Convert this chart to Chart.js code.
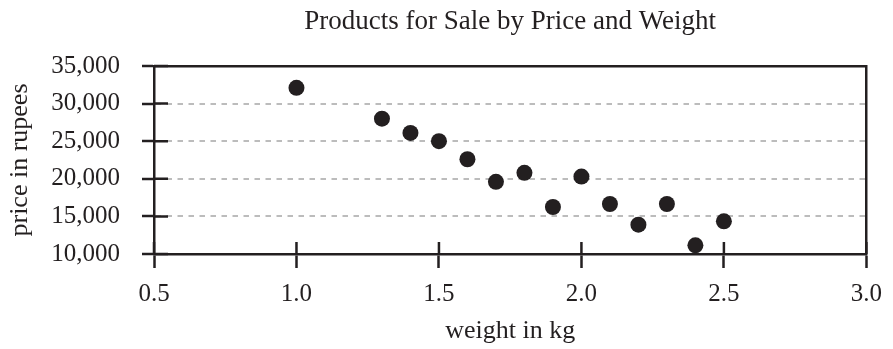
<!DOCTYPE html>
<html>
<head>
<meta charset="utf-8">
<script src="https://cdn.jsdelivr.net/npm/chart.js@4/dist/chart.umd.min.js"></script>
<style>
  html, body { margin: 0; padding: 0; background: #ffffff; }
  #wrap { width: 893px; height: 349px; }
</style>
</head>
<body>
<div id="wrap"><canvas id="priceChart"></canvas></div>
<script>
const weights = [1.0, 1.3, 1.4, 1.5, 1.6, 1.7, 1.8, 1.9, 2.0, 2.1, 2.2, 2.3, 2.4, 2.5];
const prices = [32100, 28000, 26100, 25000, 22600, 19600, 20800, 16250, 20300, 16650, 13900, 16650, 11150, 14350];
const xTickLabels = ['0.5', '1.0', '1.5', '2.0', '2.5', '3.0'];
const yTickLabels = ['10,000', '15,000', '20,000', '25,000', '30,000', '35,000'];

const ink = '#231f20';
const serif = "'Liberation Serif', 'Times New Roman', 'DejaVu Serif', serif";

// tick marks also cross into the plot area
const innerTicks = {
  id: 'innerTicks',
  beforeDatasetsDraw(chart) {
    const { ctx, chartArea, scales } = chart;
    ctx.save();
    ctx.strokeStyle = ink;
    ctx.lineWidth = 2.5;
    ctx.beginPath();
    scales.y.ticks.forEach(t => {
      const y = scales.y.getPixelForValue(t.value);
      ctx.moveTo(chartArea.left, y);
      ctx.lineTo(chartArea.left + 14, y);
    });
    scales.x.ticks.forEach(t => {
      const x = scales.x.getPixelForValue(t.value);
      ctx.moveTo(x, chartArea.bottom);
      ctx.lineTo(x, chartArea.bottom - 12);
    });
    ctx.stroke();
    ctx.restore();
  }
};

const points = weights.map((w, i) => ({ x: w, y: prices[i] }));

const ctx = document.getElementById('priceChart').getContext('2d');
new Chart(ctx, {
  type: 'scatter',
  data: {
    datasets: [{
      data: points,
      backgroundColor: ink,
      borderColor: ink,
      borderWidth: 0,
      pointRadius: 8,
      pointHoverRadius: 8
    }]
  },
  plugins: [innerTicks],
  options: {
    responsive: true,
    maintainAspectRatio: false,
    animation: false,
    layout: { padding: 0 },
    plugins: {
      legend: { display: false },
      tooltip: { enabled: false }
    },
    scales: {
      x: {
        type: 'linear',
        position: 'bottom',
        min: 0.5,
        max: 3.0,
        afterFit(scale) { scale.height = 95; },
        ticks: {
          stepSize: 0.5,
          padding: 11,
          color: ink,
          font: { family: serif, size: 25 },
          callback: (value, index) => xTickLabels[index]
        },
        grid: {
          drawOnChartArea: false,
          tickLength: 14,
          tickWidth: 2.5,
          tickColor: ink
        },
        border: { color: ink, width: 2.5 },
        title: {
          display: true,
          text: 'weight in kg',
          color: ink,
          font: { family: serif, size: 26 },
          padding: { top: 0, bottom: 2 }
        }
      },
      x2: {
        type: 'linear',
        position: 'top',
        min: 0.5,
        max: 3.0,
        afterFit(scale) { scale.height = 66; },
        ticks: { display: false },
        grid: { display: false },
        border: { color: ink, width: 2.5 },
        title: {
          display: true,
          text: 'Products for Sale by Price and Weight',
          color: ink,
          font: { family: serif, size: 27 },
          padding: { top: 6, bottom: 0 }
        }
      },
      y: {
        type: 'linear',
        position: 'left',
        min: 10000,
        max: 35000,
        afterFit(scale) { scale.width = 154; },
        ticks: {
          stepSize: 5000,
          padding: 22,
          color: ink,
          font: { family: serif, size: 25 },
          callback: (value, index) => yTickLabels[index]
        },
        grid: {
          color: c => (c.tick && (c.tick.value === 10000 || c.tick.value === 35000)) ? 'rgba(0,0,0,0)' : '#bcbcbc',
          lineWidth: 2,
          tickLength: 12,
          tickWidth: 2.5,
          tickColor: ink
        },
        border: { color: ink, width: 2.5, dash: [5.5, 5.5] },
        title: {
          display: true,
          text: 'price in rupees',
          color: ink,
          font: { family: serif, size: 26 },
          padding: { top: 5, bottom: 0 }
        }
      },
      y2: {
        type: 'linear',
        position: 'right',
        min: 10000,
        max: 35000,
        afterFit(scale) { scale.width = 16; },
        ticks: { display: false },
        grid: { display: false },
        border: { color: ink, width: 2.5 }
      }
    }
  }
});
</script>
</body>
</html>
